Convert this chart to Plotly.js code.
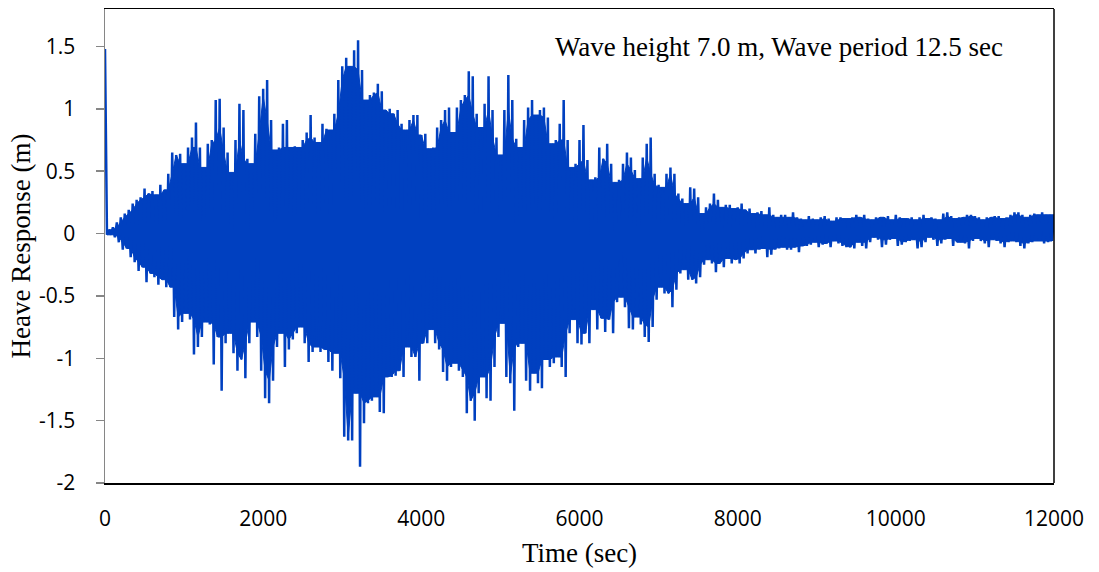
<!DOCTYPE html>
<html>
<head>
<meta charset="utf-8">
<script src="https://cdn.plot.ly/plotly-3.0.1.min.js"></script>
<style>
  html, body { margin: 0; padding: 0; background: #ffffff; }
  #chart { width: 1099px; height: 572px; }
</style>
</head>
<body>
<div id="chart"></div>
<script>
// Heave response time history, read from the picture as successive local
// peaks (crests) and troughs of the oscillation, one crest and one trough per 50 s.
const sampleStep = 50;      // s between successive crests
const troughOffset = 25;    // s, each trough lies between two crests

// crest values (m) at t = 0, 50, 100, ... 12000 s
const peakHeave = [
  1.48, 0.03, 0.05, 0.09, 0.13, 0.16, 0.19, 0.24, 0.27, 0.29,
  0.36, 0.32, 0.34, 0.31, 0.39, 0.35, 0.48, 0.65, 0.63, 0.64,
  0.56, 0.69, 0.77, 0.89, 0.69, 0.53, 0.72, 0.75, 1.07, 1.08,
  0.85, 0.65, 0.49, 0.75, 1.04, 0.99, 0.60, 0.56, 0.80, 1.10,
  1.16, 1.23, 0.91, 0.67, 0.69, 0.88, 0.91, 0.69,
  0.70, 0.69, 0.75, 0.81, 0.95, 0.77, 0.73, 0.88, 0.84, 0.83,
  0.96, 1.23, 1.34, 1.41, 1.34, 1.47, 1.55, 1.31, 1.07, 1.11,
  1.13, 1.20, 1.14, 0.99, 1.00, 0.96, 0.99, 0.88, 0.83, 0.91,
  0.95, 0.95, 0.79, 0.80, 0.68, 0.69, 0.85, 0.91, 0.99, 1.01,
  0.81, 1.01, 1.07, 1.11, 1.30, 1.26, 0.96, 0.85, 1.04,
  1.26, 0.99, 0.77, 0.63, 0.99, 1.27, 1.07, 0.76, 0.69, 0.91,
  1.01, 1.07, 0.95, 0.99, 1.01, 0.93, 0.72, 0.75, 0.88, 1.07,
  0.75, 0.53, 0.56, 0.75, 0.87, 0.59, 0.43, 0.45, 0.69, 0.60,
  0.72, 0.56, 0.41, 0.43, 0.56, 0.65, 0.61, 0.51, 0.44, 0.61,
  0.72, 0.77, 0.48, 0.39, 0.37, 0.48, 0.53, 0.48, 0.32,
  0.28, 0.24, 0.37, 0.36, 0.29, 0.16, 0.21, 0.24, 0.32, 0.27,
  0.21, 0.23, 0.23, 0.20, 0.21, 0.24, 0.19, 0.20, 0.16, 0.17,
  0.18, 0.15, 0.21, 0.15, 0.13, 0.15, 0.15, 0.13, 0.17, 0.13,
  0.12, 0.11, 0.14, 0.12, 0.11, 0.13, 0.14, 0.12, 0.10, 0.13,
  0.13, 0.12, 0.12, 0.13, 0.15, 0.13, 0.15, 0.12,
  0.11, 0.13, 0.13, 0.13, 0.14, 0.11, 0.15, 0.13, 0.12, 0.12,
  0.13, 0.11, 0.13, 0.15, 0.12, 0.13, 0.12, 0.11, 0.16, 0.17,
  0.14, 0.12, 0.13, 0.13, 0.15, 0.15, 0.14, 0.13, 0.11, 0.13,
  0.13, 0.14, 0.14, 0.12, 0.13, 0.15, 0.17, 0.17, 0.15, 0.13,
  0.15, 0.16, 0.15, 0.17, 0.15, 0.15, 0.15
];

// trough values (m) at t = 25, 75, 125, ... 11975 s
const troughHeave = [
  -0.01, -0.01, -0.03, -0.07, -0.13, -0.12, -0.19, -0.23, -0.30, -0.27,
  -0.39, -0.32, -0.35, -0.41, -0.37, -0.43, -0.43, -0.67, -0.77, -0.71,
  -0.64, -0.69, -0.97, -0.91, -0.83, -0.71, -0.73, -1.05, -0.83, -1.26,
  -0.88, -0.80, -0.96, -1.10, -1.01, -1.16, -0.88, -0.71, -0.83, -1.10,
  -1.32, -1.36, -1.18, -0.91, -0.80, -1.07, -0.93, -0.85,
  -0.80, -0.75, -0.88, -1.03, -0.95, -0.91, -0.95, -0.93, -1.03, -1.10,
  -0.96, -1.16, -1.63, -1.66, -1.66, -1.28, -1.87, -1.52, -1.36, -1.34,
  -1.31, -1.43, -1.44, -1.15, -1.15, -1.14, -1.10, -1.15, -0.91, -0.99,
  -0.99, -1.18, -0.88, -0.88, -0.77, -0.88, -0.93, -1.11, -1.18, -1.07,
  -1.04, -1.10, -1.15, -1.44, -1.34, -1.50, -1.28, -1.15, -1.32,
  -1.34, -1.07, -0.83, -0.72, -1.15, -1.20, -1.42, -0.91, -0.88, -1.18,
  -1.26, -1.12, -1.20, -1.24, -1.01, -1.07, -1.04, -0.99, -1.07, -1.15,
  -0.80, -0.69, -0.88, -0.89, -0.80, -0.88, -0.61, -0.77, -0.68, -0.79,
  -0.69, -0.80, -0.55, -0.51, -0.59, -0.76, -0.77, -0.67, -0.73, -0.83,
  -0.87, -0.75, -0.53, -0.43, -0.48, -0.48, -0.59, -0.45, -0.32,
  -0.29, -0.37, -0.37, -0.40, -0.35, -0.25, -0.21, -0.24, -0.31, -0.24,
  -0.27, -0.20, -0.24, -0.21, -0.24, -0.20, -0.16, -0.13, -0.16, -0.13,
  -0.12, -0.19, -0.17, -0.13, -0.12, -0.11, -0.13, -0.13, -0.11, -0.15,
  -0.10, -0.10, -0.09, -0.07, -0.11, -0.09, -0.08, -0.11, -0.06, -0.08,
  -0.10, -0.11, -0.11, -0.12, -0.07, -0.10, -0.12, -0.07,
  -0.03, -0.05, -0.11, -0.09, -0.05, -0.04, -0.10, -0.09, -0.07, -0.06,
  -0.05, -0.12, -0.11, -0.07, -0.03, -0.05, -0.10, -0.08, -0.05, -0.04,
  -0.10, -0.07, -0.07, -0.08, -0.12, -0.06, -0.04, -0.06, -0.08, -0.11,
  -0.05, -0.06, -0.08, -0.11, -0.07, -0.06, -0.07, -0.10, -0.12, -0.08,
  -0.07, -0.06, -0.06, -0.08, -0.07, -0.06
];

const xTickVals = [0, 2000, 4000, 6000, 8000, 10000, 12000];
const yTickVals = [-2, -1.5, -1, -0.5, 0, 0.5, 1, 1.5];
const yTickText = ['-2', '-1.5', '-1', '-0.5', '0', '0.5', '1', '1.5'];
const xTitle = 'Time (sec)';
const yTitle = 'Heave Response (m)';
const caseLabel = 'Wave height 7.0 m, Wave period 12.5 sec';

const lineBlue = '#0040C0';

// interleave crests and troughs into one time series
const time = [];
const heave = [];
for (let i = 0; i < peakHeave.length; i++) {
  time.push(i * sampleStep);
  heave.push(peakHeave[i]);
  if (i < troughHeave.length) {
    time.push(i * sampleStep + troughOffset);
    heave.push(troughHeave[i]);
  }
}

// The dense oscillation fills a solid core: the band that neighbouring
// cycles all reach (smallest neighbouring crest / trough), spikes stand out of it.
const coreX = [];
const coreY = [];
for (let i = 1; i < peakHeave.length; i++) {
  const a = peakHeave[i - 1 > 0 ? i - 1 : i];
  const b = peakHeave[i];
  const c = peakHeave[Math.min(i + 1, peakHeave.length - 1)];
  coreX.push(i * sampleStep);
  coreY.push(Math.min(a, b, c));
}
for (let i = troughHeave.length - 1; i >= 0; i--) {
  const a = troughHeave[Math.max(i - 1, 0)];
  const b = troughHeave[i];
  const c = troughHeave[Math.min(i + 1, troughHeave.length - 1)];
  coreX.push(i * sampleStep + troughOffset);
  coreY.push(Math.max(a, b, c));
}

const coreTrace = {
  x: coreX,
  y: coreY,
  type: 'scatter',
  mode: 'lines',
  fill: 'toself',
  fillcolor: lineBlue,
  line: { color: lineBlue, width: 1 },
  hoverinfo: 'skip',
  showlegend: false
};

const trace = {
  x: time,
  y: heave,
  type: 'scatter',
  mode: 'lines',
  line: { color: lineBlue, width: 2.5, simplify: false },
  hoverinfo: 'x+y',
  showlegend: false
};

const tickFont = { family: "'Open Sans', 'Liberation Sans', sans-serif", size: 21, color: '#000000' };
const serifFont = { family: "'Liberation Serif', 'Times New Roman', serif", size: 27, color: '#000000' };

const layout = {
  width: 1099,
  height: 572,
  margin: { l: 105, r: 45, t: 9, b: 89, pad: 0 },
  paper_bgcolor: '#ffffff',
  plot_bgcolor: '#ffffff',
  showlegend: false,
  xaxis: {
    range: [0, 12000],
    tickvals: xTickVals,
    ticktext: xTickVals.map(String),
    tickfont: tickFont,
    ticks: '',
    ticklabelstandoff: 16,
    showgrid: false,
    zeroline: false,
    showline: true,
    linecolor: '#000000',
    linewidth: 1.5,
    mirror: true,
    title: { text: xTitle, font: serifFont, standoff: 12 }
  },
  yaxis: {
    range: [-2, 1.8],
    tickvals: yTickVals,
    ticktext: yTickText,
    tickfont: tickFont,
    ticks: 'outside',
    ticklen: 8,
    tickwidth: 1.5,
    tickcolor: '#868686',
    ticklabelstandoff: 16,
    showgrid: false,
    zeroline: false,
    showline: true,
    linecolor: '#868686',
    linewidth: 1.5,
    title: { text: yTitle, font: serifFont, standoff: 0 }
  },
  shapes: [
    { type: 'line', xref: 'paper', yref: 'paper', x0: 1, x1: 1, y0: 0, y1: 1,
      line: { color: '#000000', width: 1.5 } }
  ],
  annotations: [
    { text: caseLabel, xref: 'paper', yref: 'paper', x: 0.472, y: 0.92,
      xanchor: 'left', yanchor: 'middle', showarrow: false, font: serifFont }
  ]
};

Plotly.newPlot('chart', [coreTrace, trace], layout, { displayModeBar: false, staticPlot: true });
</script>
</body>
</html>
